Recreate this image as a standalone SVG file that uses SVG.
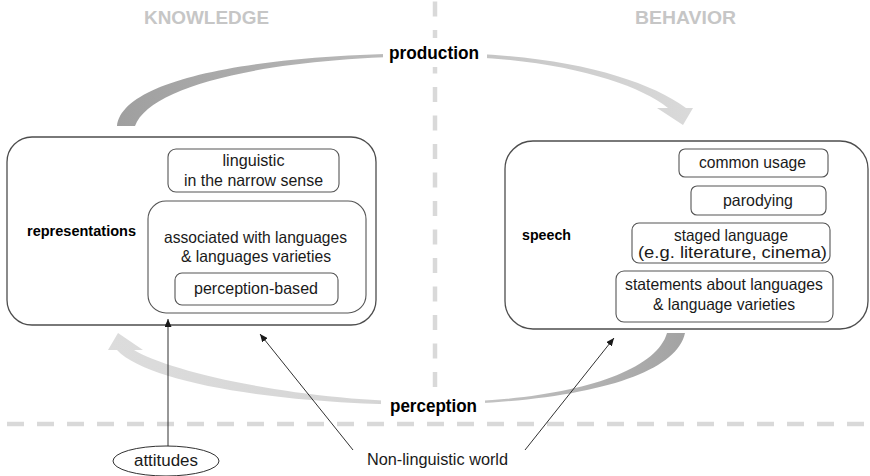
<svg xmlns="http://www.w3.org/2000/svg" width="870" height="476" viewBox="0 0 870 476">
<style>
.box{fill:#fff;stroke:#4d4d4d;stroke-width:1.3}
.ibox{fill:#fff;stroke:#555;stroke-width:1.1}
.t{font-family:"Liberation Sans",Arial,sans-serif;font-size:16.5px;fill:#1a1a1a;text-anchor:middle}
.b{font-family:"Liberation Sans",Arial,sans-serif;font-size:15.5px;font-weight:bold;fill:#000}
.head{font-family:"Liberation Sans",Arial,sans-serif;font-size:18px;font-weight:bold;fill:#c6c6c6;text-anchor:middle}
.lab{font-family:"Liberation Sans Narrow","Liberation Sans",Arial,sans-serif;font-size:19px;font-weight:bold;fill:#000;text-anchor:middle}
.n{font-family:"Liberation Sans Narrow","Liberation Sans",Arial,sans-serif;font-size:16px;fill:#1a1a1a;text-anchor:middle}
.dash{stroke:#d9d9d9;stroke-width:4.5;fill:none}
.con{stroke:#1a1a1a;stroke-width:0.9;fill:none;marker-end:url(#ah)}
</style>
<defs>
<marker id="ah" markerUnits="userSpaceOnUse" markerWidth="9" markerHeight="7" refX="8" refY="3.5" orient="auto">
<path d="M0,0 L8,3.5 L0,7 z" fill="#1a1a1a"/>
</marker>
<linearGradient id="gProd" gradientUnits="userSpaceOnUse" x1="117" y1="0" x2="694" y2="0">
<stop offset="0" stop-color="#9f9f9f"/>
<stop offset="1" stop-color="#dadada"/>
</linearGradient>
<linearGradient id="gPerc" gradientUnits="userSpaceOnUse" x1="108" y1="0" x2="685" y2="0">
<stop offset="0" stop-color="#dcdcdc"/>
<stop offset="0.45" stop-color="#d6d6d6"/>
<stop offset="1" stop-color="#a3a3a3"/>
</linearGradient>
</defs>

<g id="dividers">
<line class="dash" x1="435" y1="1.5" x2="435" y2="425" stroke-dasharray="15 13.5"/>
<line class="dash" x1="7" y1="424" x2="870" y2="424" stroke-dasharray="17 13"/>
</g>

<g id="headings">
<text class="head" x="206.5" y="24" textLength="125" lengthAdjust="spacingAndGlyphs">KNOWLEDGE</text>
<text class="head" x="685.5" y="24" textLength="101" lengthAdjust="spacingAndGlyphs">BEHAVIOR</text>
</g>

<g id="production">
<path fill="url(#gProd)" d="M117 126 C122 80 250 54 435 53 C560 53 645 78 686 108 L693 108 L683 125 L657 108 L668 108 C635 82 555 57 435 56 C270 57 150 85 135 126 Z"/>
<rect x="383" y="38" width="104" height="29" fill="#fff"/>
<text class="lab" x="434" y="59" textLength="90" lengthAdjust="spacingAndGlyphs">production</text>
</g>

<g id="perception">
<path fill="url(#gPerc)" d="M118 333 L143 350 L134 350 C170 372 300 402 435 402 C560 402 655 375 667 333 L685 333 C676 375 585 402 435 405 C290 405 150 385 117 350 L108 350 Z"/>
<rect x="381" y="399" width="104" height="21" fill="#fff"/>
<text class="lab" x="433.5" y="412" textLength="87" lengthAdjust="spacingAndGlyphs">perception</text>
</g>

<g id="representations">
<rect class="box" x="7" y="137" width="369" height="188" rx="25"/>
<text class="b" x="27" y="236" textLength="109" lengthAdjust="spacingAndGlyphs">representations</text>
</g>
<g id="linguistic">
<rect class="ibox" x="168" y="149" width="171" height="43" rx="8"/>
<text class="t" x="253.5" y="166" textLength="62" lengthAdjust="spacingAndGlyphs">linguistic</text>
<text class="t" x="253.5" y="186" textLength="139" lengthAdjust="spacingAndGlyphs">in the narrow sense</text>
</g>
<g id="associated">
<rect class="ibox" x="148" y="201" width="218" height="112" rx="18"/>
<text class="t" x="255.5" y="243" textLength="183" lengthAdjust="spacingAndGlyphs">associated with languages</text>
<text class="t" x="256" y="262" textLength="150" lengthAdjust="spacingAndGlyphs">&amp; languages varieties</text>
</g>
<g id="perception-based">
<rect class="ibox" x="175" y="273" width="163" height="32" rx="7"/>
<text class="t" x="256" y="294" textLength="124" lengthAdjust="spacingAndGlyphs">perception-based</text>
</g>

<g id="speech">
<rect class="box" x="505" y="141" width="363" height="188" rx="28"/>
<text class="b" x="522" y="240" textLength="49" lengthAdjust="spacingAndGlyphs">speech</text>
</g>
<g id="common-usage">
<rect class="ibox" x="679" y="149" width="149" height="28" rx="6"/>
<text class="t" x="752.5" y="168" textLength="107" lengthAdjust="spacingAndGlyphs">common usage</text>
</g>
<g id="parodying">
<rect class="ibox" x="691" y="186" width="135" height="29" rx="6"/>
<text class="t" x="758" y="206" textLength="70" lengthAdjust="spacingAndGlyphs">parodying</text>
</g>
<g id="staged">
<rect class="ibox" x="632" y="223" width="198" height="40" rx="7"/>
<text class="t" x="731" y="241" textLength="114" lengthAdjust="spacingAndGlyphs">staged language</text>
<text class="t" x="732.5" y="258" textLength="189" lengthAdjust="spacingAndGlyphs">(e.g. literature, cinema)</text>
</g>
<g id="statements">
<rect class="ibox" x="616" y="271" width="217" height="51" rx="8"/>
<text class="t" x="724" y="290" textLength="198" lengthAdjust="spacingAndGlyphs">statements about languages</text>
<text class="t" x="724" y="310" textLength="142" lengthAdjust="spacingAndGlyphs">&amp; language varieties</text>
</g>

<g id="attitudes">
<ellipse cx="166" cy="461" rx="53" ry="15" fill="#fff" stroke="#1a1a1a" stroke-width="0.9"/>
<text class="n" x="166" y="466" textLength="64" lengthAdjust="spacingAndGlyphs">attitudes</text>
</g>
<g id="non-linguistic-world">
<text class="n" x="437.5" y="465" textLength="141" lengthAdjust="spacingAndGlyphs">Non-linguistic world</text>
</g>

<g id="connectors">
<line class="con" x1="168" y1="446" x2="168" y2="319"/>
<line class="con" x1="353" y1="450" x2="260" y2="334"/>
<line class="con" x1="525" y1="450" x2="614" y2="338"/>
</g>
</svg>
